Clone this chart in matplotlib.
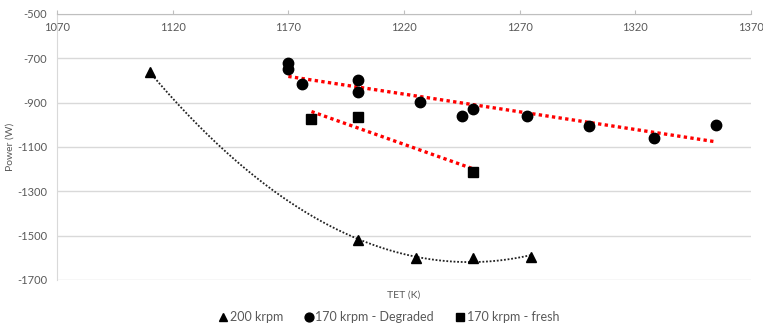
import numpy as np
import matplotlib
matplotlib.use("Agg")
import matplotlib.pyplot as plt

plt.rcParams['font.family'] = ['Lato', 'DejaVu Sans']

# Data
tet_200 = [1110, 1200, 1225, 1250, 1275]
pow_200 = [-760, -1520, -1600, -1600, -1597]

tet_deg = [1170, 1170, 1176, 1200, 1200, 1227, 1245, 1250, 1273, 1300, 1328, 1355]
pow_deg = [-720, -750, -818, -800, -850, -895, -958, -930, -958, -1005, -1058, -1000]

tet_fresh = [1180, 1200, 1250]
pow_fresh = [-975, -965, -1213]

xticks = [1070, 1120, 1170, 1220, 1270, 1320, 1370]
yticks = [-500, -700, -900, -1100, -1300, -1500, -1700]

label_200 = "200 krpm"
label_deg = "170 krpm - Degraded"
label_fresh = "170 krpm - fresh"
xlabel = "TET (K)"
ylabel = "Power (W)"

W, H = 763, 327
fig = plt.figure(figsize=(W / 100, H / 100), dpi=100)
ax = fig.add_axes([57 / W, 1 - 280 / H, (751 - 57) / W, (280 - 14) / H])
ax.set_xlim(xticks[0], xticks[-1])
ax.set_ylim(yticks[-1], yticks[0])

gray_txt = '#595959'
grid_c = '#d9d9d9'

ax.set_yticks(yticks)
ax.set_yticklabels([str(v) for v in yticks])
ax.yaxis.grid(True, color=grid_c, linewidth=1)
ax.set_axisbelow(True)
ax.tick_params(axis='y', length=0, pad=7, labelsize=8, labelcolor=gray_txt)

ax.xaxis.tick_top()
ax.set_xticks(xticks)
ax.tick_params(axis='x', direction='out', length=3, color='#bfbfbf',
               labeltop=False, labelbottom=False)
for xv in xticks:
    ax.annotate(str(xv), xy=(xv, 1), xycoords=('data', 'axes fraction'),
                xytext=(0, -10), textcoords='offset points',
                ha='center', va='center', fontsize=8, color=gray_txt)

for s in ['right', 'bottom']:
    ax.spines[s].set_visible(False)
ax.spines['top'].set_color('#bfbfbf')
ax.spines['left'].set_color(grid_c)

# Trendlines
p2 = np.polyfit(tet_200, pow_200, 2)
xx = np.linspace(min(tet_200), max(tet_200), 200)
ax.plot(xx, np.polyval(p2, xx), color='#222222', linestyle=(0, (1, 1)), linewidth=1.3, zorder=2)

p1 = np.polyfit(tet_deg, pow_deg, 1)
xd = np.array([min(tet_deg), max(tet_deg)])
ax.plot(xd, np.polyval(p1, xd), color='#ff0000', linestyle=(0, (1, 1)), linewidth=2.4, zorder=2)

p1f = np.polyfit(tet_fresh, pow_fresh, 1)
xf = np.array([min(tet_fresh), max(tet_fresh)])
ax.plot(xf, np.polyval(p1f, xf), color='#ff0000', linestyle=(0, (1, 1)), linewidth=2.4, zorder=2)

# Markers
ax.plot(tet_200, pow_200, linestyle='none', marker='^', markersize=7, color='black', label=label_200, zorder=3)
ax.plot(tet_deg, pow_deg, linestyle='none', marker='o', markersize=7.5, color='black', label=label_deg, zorder=3)
ax.plot(tet_fresh, pow_fresh, linestyle='none', marker='s', markersize=7, color='black', label=label_fresh, zorder=3)

fig.text((57 + 751) / 2 / W, 1 - 295 / H, xlabel, ha='center', va='center', fontsize=7.5, color=gray_txt)
fig.text(10 / W, 1 - 147 / H, ylabel, ha='center', va='center', rotation=90, fontsize=7.5, color=gray_txt)

fig.legend(loc='center', bbox_to_anchor=(388 / W, 1 - 317 / H), ncol=3, frameon=False,
           fontsize=9, handletextpad=0.0, columnspacing=1.6, handlelength=1,
           markerscale=0.85, labelcolor=gray_txt)

fig.savefig('out.png', dpi=100)
